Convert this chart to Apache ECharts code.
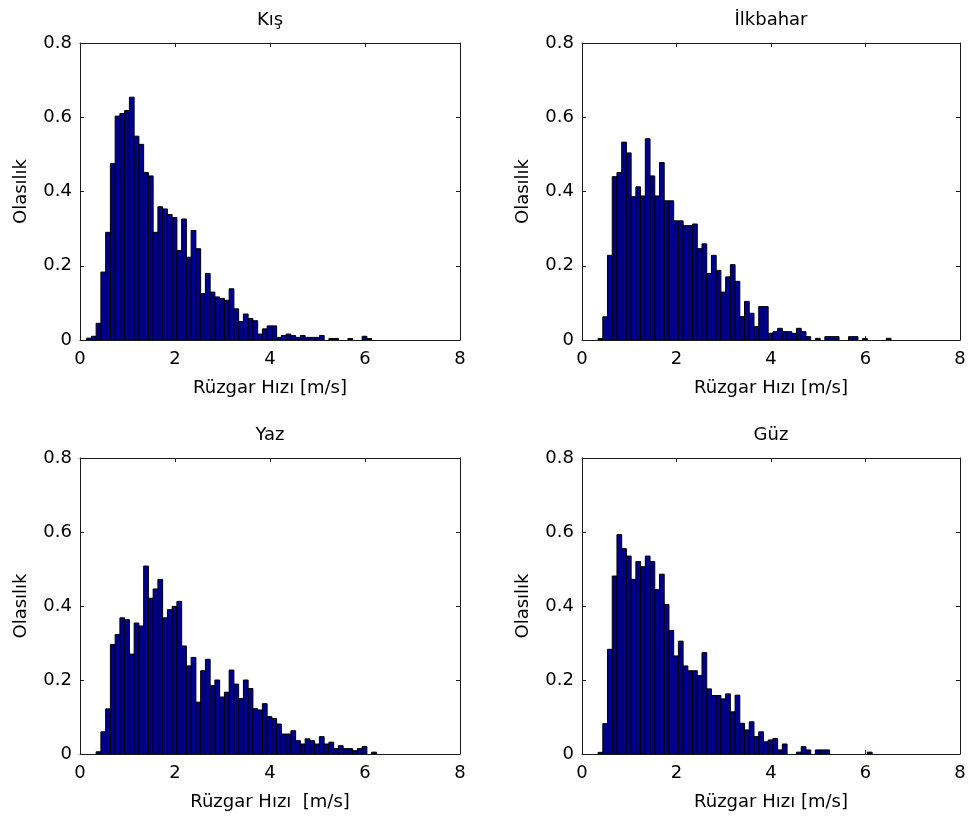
<!DOCTYPE html>
<html><head><meta charset="utf-8">
<script src="https://cdn.jsdelivr.net/npm/echarts@6/dist/echarts.min.js"></script>
<style>html,body{margin:0;padding:0;background:#fff}#c{width:971px;height:817px}</style>
</head><body><div id="c"></div>
<script>
const titles = ['Kış', 'İlkbahar', 'Yaz', 'Güz'];
const xNames = ['Rüzgar Hızı [m/s]', 'Rüzgar Hızı [m/s]', 'Rüzgar Hızı  [m/s]', 'Rüzgar Hızı [m/s]'];
const yName = 'Olasılık';
const xTickLabels = ['0', '2', '4', '6', '8'];
const yTickLabels = ['0', '0.2', '0.4', '0.6', '0.8'];
const binWidth = 0.1;
// first bin centre of each season
const binStart = [0.19, 0.39, 0.39, 0.39];

const kis = [0.005,0.01,0.045,0.183,0.29,0.475,0.603,0.61,0.618,0.654,0.549,0.527,0.451,0.442,0.29,0.359,0.353,0.338,0.33,0.241,0.326,0.223,0.295,0.246,0.125,0.179,0.129,0.116,0.112,0.107,0.138,0.084,0.05,0.07,0.058,0.052,0.016,0.03,0.038,0.038,0.007,0.012,0.016,0.012,0.007,0.012,0.007,0.007,0.007,0.012,0,0.004,0.004,0,0,0.004,0,0,0.01,0.004];
const ilkbahar = [0.004,0.0625,0.228,0.44,0.451,0.533,0.504,0.386,0.4125,0.388,0.542,0.442,0.388,0.478,0.375,0.375,0.321,0.321,0.308,0.308,0.3125,0.246,0.259,0.179,0.228,0.1875,0.129,0.17,0.203,0.158,0.063,0.104,0.072,0.036,0.09,0.09,0.018,0.0225,0.0315,0.0225,0.0225,0.018,0.0315,0.0225,0.009,0,0.0045,0,0.009,0.009,0.009,0,0,0.009,0.009,0,0.004,0,0,0,0,0.0045];
const yaz = [0.006,0.06,0.122,0.296,0.323,0.368,0.363,0.27,0.354,0.346,0.508,0.421,0.446,0.472,0.368,0.39,0.399,0.4125,0.292,0.238,0.261,0.14,0.225,0.256,0.185,0.2,0.154,0.167,0.227,0.189,0.15,0.2,0.177,0.1225,0.119,0.136,0.101,0.096,0.081,0.054,0.054,0.063,0.036,0.027,0.041,0.036,0.027,0.047,0.027,0.032,0.0145,0.0225,0.0145,0.0145,0.009,0.0145,0.02,0,0.005];
const guz = [0.0045,0.082,0.283,0.481,0.593,0.555,0.535,0.472,0.52,0.506,0.535,0.52,0.444,0.486,0.404,0.334,0.265,0.305,0.238,0.225,0.225,0.212,0.274,0.176,0.158,0.158,0.149,0.1625,0.114,0.159,0.083,0.065,0.087,0.047,0.06,0.033,0.038,0.042,0.011,0.027,0,0,0.005,0.02,0.011,0,0.011,0.011,0.011,0,0,0,0,0,0,0,0,0.005];
const seasons = [kis, ilkbahar, yaz, guz];

const grids = [
  {left: 80, top: 43, width: 380, height: 297},
  {left: 582, top: 43, width: 378, height: 297},
  {left: 80, top: 458, width: 380, height: 296},
  {left: 582, top: 458, width: 378, height: 296}
];
const FONT = 'DejaVu Sans';
const lineCol = '#1a1a1a';

const xAxes = [], yAxes = [], series = [], graphics = [];
grids.forEach((g, i) => {
  const common = {
    type: 'value', gridIndex: i,
    axisLine: {show: true, onZero: false, lineStyle: {color: lineCol, width: 1}},
    axisTick: {show: true, inside: true, length: 4, lineStyle: {color: lineCol}},
    splitLine: {show: false}
  };
  xAxes.push(Object.assign({}, common, {
    position: 'bottom', min: 0, max: 8, interval: 2,
    axisLabel: {fontFamily: FONT, fontSize: 18, color: '#000', margin: 10,
      formatter: v => xTickLabels[Math.round(v / 2)]},
    name: xNames[i], nameLocation: 'middle', nameGap: 39,
    nameTextStyle: {fontFamily: FONT, fontSize: 18, color: '#000'}
  }));
  xAxes.push(Object.assign({}, common, {
    position: 'top', min: 0, max: 8, interval: 2, axisLabel: {show: false}
  }));
  yAxes.push(Object.assign({}, common, {
    position: 'left', min: 0, max: 0.8, interval: 0.2,
    axisLabel: {fontFamily: FONT, fontSize: 18, color: '#000', margin: 8,
      formatter: v => yTickLabels[Math.round(v / 0.2)]},
    name: yName, nameLocation: 'middle', nameGap: 50, nameRotate: 90,
    nameTextStyle: {fontFamily: FONT, fontSize: 18, color: '#000'}
  }));
  yAxes.push(Object.assign({}, common, {
    position: 'right', min: 0, max: 0.8, interval: 0.2, axisLabel: {show: false}
  }));
  const data = seasons[i].map((v, k) => [Math.round((binStart[i] + k * binWidth) * 1000) / 1000, v]);
  series.push({
    type: 'custom', xAxisIndex: 2 * i, yAxisIndex: 2 * i, clip: true,
    data: data, encode: {x: 0, y: 1},
    renderItem: function (params, api) {
      const x = api.value(0), y = api.value(1);
      if (!(y > 0)) return null;
      const p0 = api.coord([x - binWidth / 2, y]);
      const p1 = api.coord([x + binWidth / 2, 0]);
      return {
        type: 'rect',
        shape: {x: p0[0], y: p0[1], width: p1[0] - p0[0], height: p1[1] - p0[1]},
        style: {fill: '#00008F', stroke: '#000', lineWidth: 1}
      };
    }
  });
  graphics.push({
    type: 'text', x: g.left + g.width / 2, y: g.top - 23,
    style: {text: titles[i], fontFamily: FONT, fontSize: 18, fill: '#000', align: 'center', verticalAlign: 'middle'}
  });
});

const chart = echarts.init(document.getElementById('c'), null, {renderer: 'canvas'});
chart.setOption({
  animation: false,
  backgroundColor: '#fff',
  grid: grids,
  xAxis: xAxes,
  yAxis: yAxes,
  series: series,
  graphic: graphics
});
</script></body></html>
